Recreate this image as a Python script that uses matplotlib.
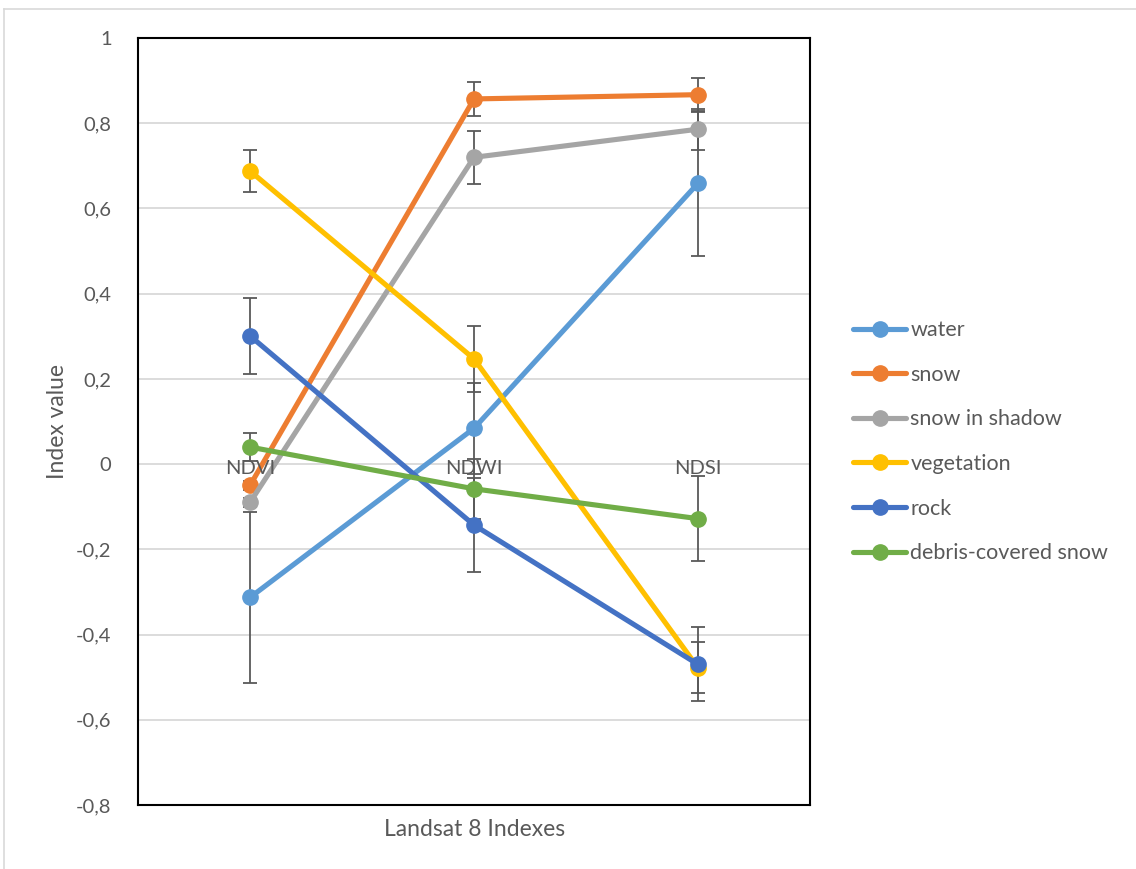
import matplotlib
matplotlib.use("Agg")
import matplotlib.pyplot as plt
from matplotlib.lines import Line2D
import numpy as np

plt.rcParams['font.family'] = ['Lato', 'DejaVu Sans']

categories = ['NDVI', 'NDWI', 'NDSI']
series = ['water', 'snow', 'snow in shadow', 'vegetation', 'rock', 'debris-covered snow']
colours = ['#5B9BD5', '#ED7D31', '#A5A5A5', '#FFC000', '#4472C4', '#70AD47']

# mean index values per class (NDVI, NDWI, NDSI)
water = [-0.313, 0.084, 0.659]
snow = [-0.050, 0.857, 0.867]
snow_shadow = [-0.090, 0.720, 0.786]
vegetation = [0.688, 0.247, -0.478]
rock = [0.301, -0.143, -0.470]
debris = [0.040, -0.058, -0.128]

# standard deviations
water_sd = [0.200, 0.107, 0.170]
snow_sd = [0.010, 0.040, 0.040]
snow_shadow_sd = [0.010, 0.062, 0.048]
vegetation_sd = [0.050, 0.077, 0.060]
rock_sd = [0.089, 0.111, 0.087]
debris_sd = [0.032, 0.070, 0.100]

means = [water, snow, snow_shadow, vegetation, rock, debris]
sds = [water_sd, snow_sd, snow_shadow_sd, vegetation_sd, rock_sd, debris_sd]

txt = '#595959'
fig = plt.figure(figsize=(11.36, 8.69), dpi=100)
ax = fig.add_axes([138/1136, 1-805/869, 672/1136, 767/869])

x = np.arange(len(categories))
handles = []
for name, m, s, c in zip(series, means, sds, colours):
    ax.errorbar(x, m, yerr=s, fmt='none', ecolor=txt, elinewidth=1.3,
                capsize=5, capthick=1.3, zorder=2)
for name, m, s, c in zip(series, means, sds, colours):
    h, = ax.plot(x, m, color=c, lw=3.7, marker='o', ms=11, label=name,
                 solid_capstyle='round', zorder=3)
    handles.append(h)

ax.set_xlim(-0.5, 2.5)
ax.set_ylim(-0.8, 1.0)
yt = np.round(np.arange(-0.8, 1.01, 0.2), 1)
ax.set_yticks(yt)
ax.set_yticklabels([('%g' % v).replace('.', ',') if abs(v) > 1e-9 else '0'
                    for v in yt], color=txt, fontsize=14.5)
ax.tick_params(axis='y', length=0, pad=19)
ax.set_xticks([])
for v in yt[1:-1]:
    ax.axhline(v, color='#D9D9D9', lw=1.3, zorder=0)
for sp in ax.spines.values():
    sp.set_color('black')
    sp.set_linewidth(1.5)

for xi, cat in zip(x, categories):
    ax.text(xi, -0.01, cat, ha='center', va='center', color=txt, fontsize=14.5, zorder=5)

ax.set_ylabel('Index value', color=txt, fontsize=16.5, labelpad=6)
fig.text(475/1136, 1-829/869, 'Landsat 8 Indexes', ha='center', va='center',
         color=txt, fontsize=16.5)

leg = fig.legend(handles=handles, loc='upper left', bbox_to_anchor=(834/1136, 1-301/869),
                 frameon=False, fontsize=15.5, labelcolor=txt, handlelength=2.45,
                 handletextpad=0.2, labelspacing=1.14)

# light outer border (top and left only)
fig.add_artist(Line2D([4/1136, 4/1136], [0, 1-9/869], color='#D9D9D9', lw=1.2))
fig.add_artist(Line2D([4/1136, 1], [1-9/869, 1-9/869], color='#D9D9D9', lw=1.2))

fig.savefig('out.png', dpi=100)
